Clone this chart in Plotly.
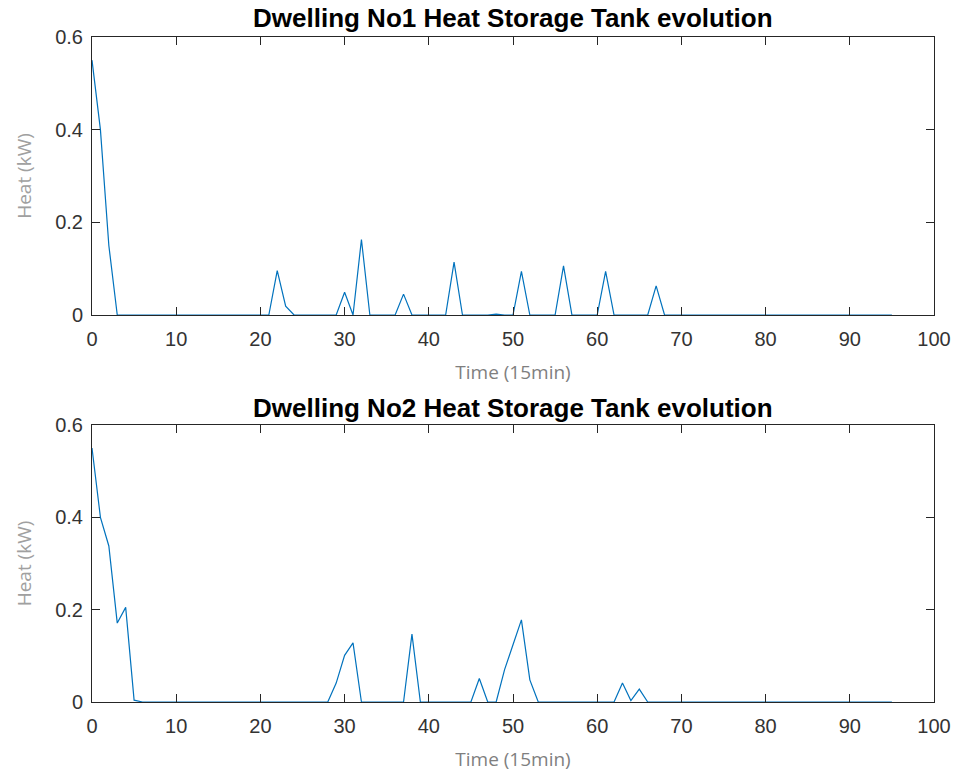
import plotly.graph_objects as go
from plotly.subplots import make_subplots

time_steps = list(range(96))

dwelling1_peaks = {0: 0.55, 1: 0.40, 2: 0.15, 22: 0.096, 23: 0.019, 30: 0.049, 32: 0.163,
                   37: 0.045, 43: 0.114, 48: 0.002, 51: 0.094, 56: 0.106, 61: 0.094, 67: 0.063}
dwelling2_peaks = {0: 0.55, 1: 0.40, 2: 0.338, 3: 0.171, 4: 0.205, 5: 0.004, 29: 0.041, 30: 0.101,
                   31: 0.128, 38: 0.147, 46: 0.051, 49: 0.07, 50: 0.124, 51: 0.178, 52: 0.048,
                   63: 0.041, 64: 0.003, 65: 0.028}
dwelling1 = [dwelling1_peaks.get(t, 0.0) for t in time_steps]
dwelling2 = [dwelling2_peaks.get(t, 0.0) for t in time_steps]

titles = ["Dwelling No1 Heat Storage Tank evolution", "Dwelling No2 Heat Storage Tank evolution"]
x_ticks = list(range(0, 101, 10))
y_ticks = [0, 0.2, 0.4, 0.6]

W, H = 963, 780
L, R, T, B = 92, 937, 37, 702
fig = make_subplots(rows=2, cols=1)
line_color = "#0072BD"
axis_color = "#262626"

fig.add_trace(go.Scatter(x=time_steps, y=dwelling1, mode="lines",
                         line=dict(color=line_color, width=1.2), showlegend=False), row=1, col=1)
fig.add_trace(go.Scatter(x=time_steps, y=dwelling2, mode="lines",
                         line=dict(color=line_color, width=1.2), showlegend=False), row=2, col=1)

ph = B - T
dom1 = [(B - 315) / ph, 1.0]
dom2 = [0.0, (B - 425) / ph]

tick_font = dict(family="Liberation Sans, Arial", size=20, color="#333333")
common_x = dict(range=[0, 100], tickvals=x_ticks, ticks="inside", ticklen=8, tickcolor=axis_color,
                showline=True, linecolor=axis_color, linewidth=1, mirror="ticks", showgrid=False,
                zeroline=False, tickfont=tick_font, ticklabelstandoff=6,
                title=dict(text="Time (15min)", font=dict(family="Open Sans", size=19, color="#7f7f7f"), standoff=16))
common_y = dict(range=[0, 0.6], tickvals=y_ticks, ticktext=["0", "0.2", "0.4", "0.6"], ticks="inside",
                ticklen=8, tickcolor=axis_color, showline=True, linecolor=axis_color, linewidth=1,
                mirror="ticks", showgrid=False, zeroline=False, tickfont=tick_font, ticklabelstandoff=4,
                title=dict(text="Heat (kW)", font=dict(family="Open Sans", size=19, color="#a0a0a0"), standoff=18))

fig.update_xaxes(**common_x)
fig.update_yaxes(**common_y)
fig.update_layout(yaxis=dict(domain=dom1), yaxis2=dict(domain=dom2))

for i, (t, ypix) in enumerate(zip(titles, [18, 408])):
    fig.add_annotation(text="<b>" + t + "</b>", xref="paper", yref="paper",
                       x=0.5, y=(B - ypix) / ph, xanchor="center", yanchor="middle", showarrow=False,
                       font=dict(family="Liberation Sans, Arial", size=26, color="black"))

fig.update_layout(width=W, height=H, margin=dict(l=L, r=W - R, t=T, b=H - B),
                  plot_bgcolor="white", paper_bgcolor="white")

fig.write_html("out.html")
